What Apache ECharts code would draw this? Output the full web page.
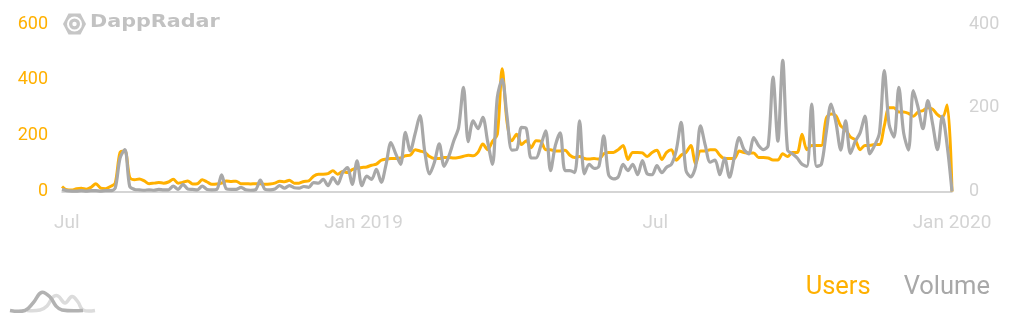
<!DOCTYPE html>
<html>
<head>
<meta charset="utf-8">
<script src="https://cdn.jsdelivr.net/npm/echarts@6/dist/echarts.min.js"></script>
<style>
html,body{margin:0;padding:0;background:#fff;}
#chart{width:1014px;height:320px;}
</style>
</head>
<body>
<div id="chart"></div>
<script>
var startDate = '2018-06-28';
var stepDays = 3;
var users = [
18,6,5,10,12,8,15,28,12,10,18,30,140,145,50,42,45,38,28,30,
32,30,34,44,30,33,38,27,28,42,34,26,27,30,38,36,37,28,28,27,
28,28,26,27,30,37,35,40,30,30,36,38,55,62,62,64,74,62,72,68,
78,84,86,88,94,98,112,116,118,118,120,128,130,150,145,140,125,118,118,122,
122,120,122,126,130,128,140,170,150,180,205,440,250,182,205,168,182,157,182,180,
150,150,145,145,148,130,122,125,118,116,118,116,135,140,140,150,165,115,140,140,
138,125,140,148,115,140,150,112,130,140,165,98,145,145,150,150,130,118,118,118,
145,140,138,138,122,122,120,113,113,135,125,140,140,205,150,165,165,165,262,278,
272,235,222,195,185,150,165,165,168,168,235,300,300,285,285,280,270,285,290,300,
295,275,265,310,0
];
var volume = [
5,2,1,1,2,1,2,2,1,2,2,8,80,100,12,5,4,3,4,3,
5,4,4,13,5,17,6,5,4,13,5,4,5,40,6,5,5,10,4,3,
4,27,5,4,6,14,8,14,9,8,12,10,21,20,29,14,33,18,45,57,
17,73,14,37,29,53,22,65,117,90,65,141,97,138,181,95,42,70,114,60,
85,121,153,249,119,169,150,177,119,65,225,268,180,99,100,153,150,80,80,110,
145,50,110,140,50,50,45,169,42,65,55,60,133,40,30,35,65,50,65,40,
74,42,40,62,45,58,65,99,165,50,35,60,157,110,70,75,40,80,34,82,
129,100,90,129,110,100,110,273,120,313,99,90,80,65,60,209,60,65,141,209,
165,99,169,91,120,140,180,90,110,140,289,160,130,249,140,99,241,200,150,217,
161,100,180,110,0
];
var xTickDates = ['2018-07-01','2019-01-01','2019-07-01','2020-01-01'];
var xTickLabels = ['Jul','Jan 2019','Jul','Jan 2020'];
var leftTicks = [0,200,400,600];
var rightTicks = [0,200,400];

// ---- build ----
var ORANGE = '#ffb000';
var GRAY = '#a8a8a8';
var DAY = 86400000;
var t0 = Date.parse(startDate + 'T00:00:00Z');
function pairs(arr){ return arr.map(function(v,i){ return [t0 + i*stepDays*DAY, v]; }); }
var tickTs = xTickDates.map(function(d){ return Date.parse(d + 'T00:00:00Z'); });
var labelMap = {};
tickTs.forEach(function(t,i){ labelMap[t] = xTickLabels[i]; });

var chart = echarts.init(document.getElementById('chart'), null, {renderer:'canvas'});
chart.setOption({
  animation:false,
  textStyle:{fontFamily:'Roboto'},
  grid:{left:62,right:62,top:24,bottom:128.5,containLabel:false},
  legend:{
    right:19, top:270, icon:'none', itemWidth:0, itemGap:28,
    textStyle:{fontSize:25.5,fontFamily:'Roboto'},
    data:[{name:'Users',textStyle:{color:ORANGE}},{name:'Volume',textStyle:{color:GRAY}}]
  },
  xAxis:{
    type:'value',
    min:t0, max:tickTs[3],
    axisLine:{show:true,lineStyle:{color:'#c8c8c8',width:1.5}},
    axisTick:{show:false},
    splitLine:{show:false},
    axisLabel:{
      customValues:tickTs,
      color:'#d4d4d4', fontSize:19, margin:22,
      showMinLabel:true, showMaxLabel:true, hideOverlap:false,
      formatter:function(v){ return labelMap[v] !== undefined ? labelMap[v] : ''; }
    }
  },
  yAxis:[
    {type:'value',min:leftTicks[0],max:leftTicks[leftTicks.length-1],interval:200,
     axisLine:{show:false},axisTick:{show:false},splitLine:{show:false},
     axisLabel:{color:ORANGE,fontSize:18,margin:14}},
    {type:'value',min:rightTicks[0],max:rightTicks[rightTicks.length-1],interval:200,
     axisLine:{show:false},axisTick:{show:false},splitLine:{show:false},
     axisLabel:{color:'#d2d2d2',fontSize:18,margin:17}}
  ],
  series:[
    {name:'Users',type:'line',yAxisIndex:0,data:pairs(users),showSymbol:false,symbol:'none',
     smooth:0.3,lineStyle:{color:ORANGE,width:3},itemStyle:{color:ORANGE}},
    {name:'Volume',type:'line',yAxisIndex:1,data:pairs(volume),showSymbol:false,symbol:'none',
     smooth:0.3,lineStyle:{color:GRAY,width:3.2},itemStyle:{color:GRAY}}
  ],
  graphic:[
    {type:'polygon',shape:{points:[[63,24],[68.5,13.5],[80.5,13.5],[86,24],[80.5,34.5],[68.5,34.5]]},
     style:{fill:'#c6c6c6'}},
    {type:'circle',shape:{cx:74.5,cy:24,r:6.5},style:{fill:'none',stroke:'#fff',lineWidth:2}},
    {type:'circle',shape:{cx:74.5,cy:24,r:2.2},style:{fill:'#fff'}},
    {type:'text',left:90,top:13,scaleX:1.15,
     style:{text:'DappRadar',fill:'#c2c2c2',font:'bold 18px "DejaVu Sans"'}},
    {type:'polyline',shape:{smooth:0.4,points:[[27,310.5],[40,310],[47,306],[53,297],[58,296],[65,303],[72,296.5],[78,302],[83,310],[95,310.5]]},
     style:{stroke:'#dcdcdc',lineWidth:3.5,fill:'none'}},
    {type:'polyline',shape:{smooth:0.4,points:[[10,310.5],[25,310.5],[33,303],[41.5,292.5],[50,297],[56,306],[62,310],[83,310.5]]},
     style:{stroke:'#b2b2b2',lineWidth:3.5,fill:'none'}}
  ]
});
</script>
</body>
</html>
